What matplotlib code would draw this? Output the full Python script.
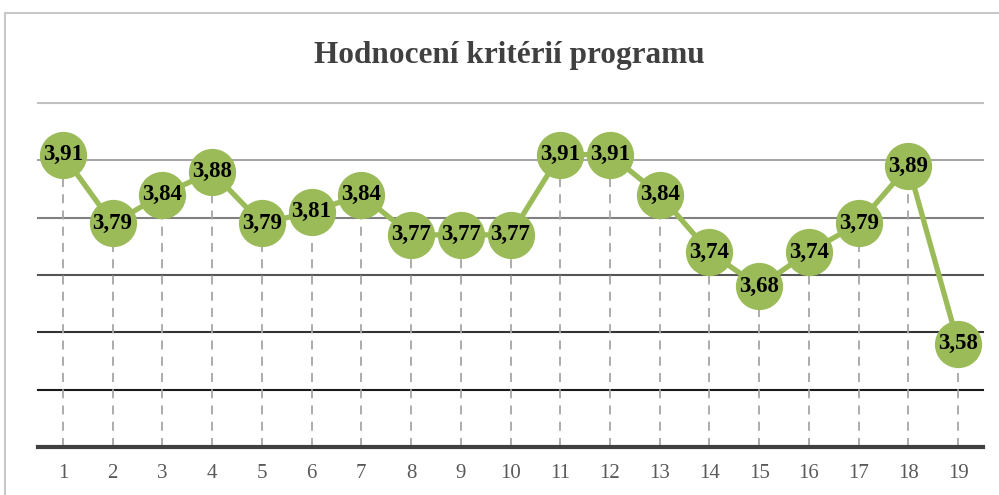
import numpy as np
from matplotlib import pyplot as plt
from matplotlib.patches import Rectangle

# data
criteria = list(range(1, 20))
scores = [3.91, 3.79, 3.84, 3.88, 3.79, 3.81, 3.84, 3.77, 3.77, 3.77,
          3.91, 3.91, 3.84, 3.74, 3.68, 3.74, 3.79, 3.89, 3.58]
grid_levels = [3.5, 3.6, 3.7, 3.8, 3.9, 4.0]
title = "Hodnocení kritérií programu"

green = "#9bbb59"
serif = ["Liberation Serif", "DejaVu Serif"]

fig = plt.figure(figsize=(9.99, 4.95), dpi=100)
ax = fig.add_axes([38 / 999, 1 - 447 / 495, (983 - 38) / 999, (447 - 103) / 495])

# outer chart frame (cut off at the right and bottom)
fig.patches.append(Rectangle((5 / 999, -0.05), 1.2, 1 - 13 / 495 + 0.05,
                             transform=fig.transFigure, fill=False,
                             edgecolor="#c8c8c8", lw=1.5))

# horizontal grid, getting darker towards the bottom
grid_colors = ["#1a1a1a", "#333333", "#555555", "#808080", "#a6a6a6", "#c0c0c0"]
for lvl, c in zip(grid_levels, grid_colors):
    ax.axhline(lvl, color=c, lw=1.5, zorder=1, clip_on=False)
ax.axhline(3.4, color="#404040", lw=3, zorder=2, clip_on=False)

# drop lines
ax.vlines(criteria, 3.4, scores, colors="#a6a6a6", linestyles=(0, (5, 4)),
          lw=1.3, zorder=1)

ax.plot(criteria, scores, color=green, lw=3.8, marker="o", markersize=33,
        markerfacecolor=green, markeredgecolor=green, zorder=3)

for x, y in zip(criteria, scores):
    ax.text(x, y, f"{y:.2f}".replace(".", ","), ha="center", va="center",
            fontsize=16.5, fontweight="bold", family=serif, color="black", zorder=4)

ax.set_xlim(0.5, 19.5)
ax.set_ylim(3.4, 4.0)
ax.set_xticks(criteria)
ax.set_xticklabels([str(c) for c in criteria], family=serif, fontsize=15,
                   color="#595959")
ax.tick_params(axis="x", length=0, pad=12)
ax.set_yticks([])
for s in ax.spines.values():
    s.set_visible(False)
ax.patch.set_alpha(0)

fig.text(0.51, 1 - 55 / 495, title, ha="center", va="center", fontsize=22.5,
         fontweight="bold", family=serif, color="#404040")

fig.savefig("out.png", dpi=100)
